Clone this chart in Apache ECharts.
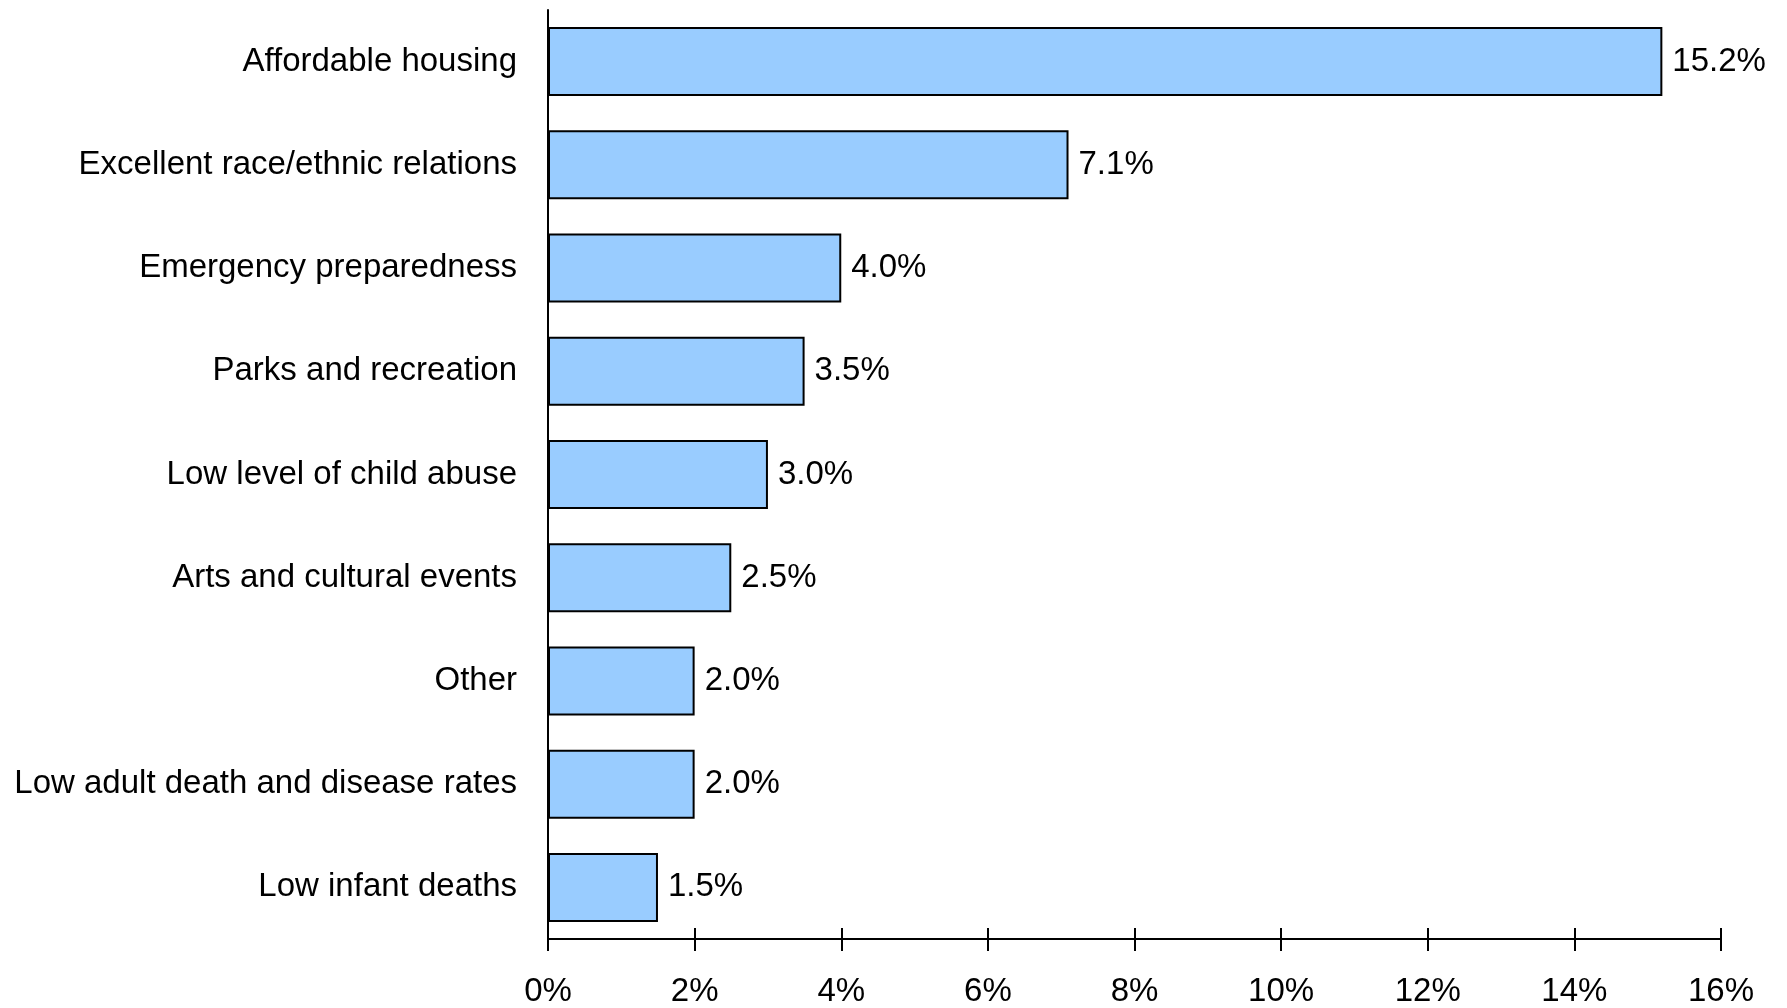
<!DOCTYPE html>
<html>
<head>
<meta charset="utf-8">
<script src="https://cdn.jsdelivr.net/npm/echarts@6/dist/echarts.min.js"></script>
<style>
html,body{margin:0;padding:0;background:#fff;}
#chart{width:1787px;height:1008px;}
</style>
</head>
<body>
<div id="chart"></div>
<script>
const categories = [
  "Affordable housing",
  "Excellent race/ethnic relations",
  "Emergency preparedness",
  "Parks and recreation",
  "Low level of child abuse",
  "Arts and cultural events",
  "Other",
  "Low adult death and disease rates",
  "Low infant deaths"
];
const values = [15.2, 7.1, 4.0, 3.5, 3.0, 2.5, 2.0, 2.0, 1.5];
const xTickMin = 0, xTickMax = 16, xTickStep = 2;

const FONT = "'Liberation Sans', Arial, sans-serif";
const chart = echarts.init(document.getElementById('chart'), null, {renderer: 'canvas'});
chart.setOption({
  backgroundColor: '#ffffff',
  animation: false,
  grid: {left: 548, right: 66, top: 10, bottom: 69, containLabel: false},
  xAxis: [{
    type: 'value', min: xTickMin, max: xTickMax, interval: xTickStep,
    axisLine: {show: true, lineStyle: {color: '#000', width: 2}},
    axisTick: {show: true, length: 12, lineStyle: {color: '#000', width: 2}},
    splitLine: {show: false},
    axisLabel: {color: '#000', fontSize: 33, fontFamily: FONT, margin: 36,
      formatter: v => v + '%'}
  }, {
    type: 'value', min: xTickMin, max: xTickMax, interval: xTickStep, position: 'bottom',
    axisLine: {show: false},
    axisTick: {show: true, inside: true, length: 11, lineStyle: {color: '#000', width: 2}},
    splitLine: {show: false},
    axisLabel: {show: false}
  }],
  yAxis: {
    type: 'category', data: categories, inverse: true,
    axisLine: {show: true, lineStyle: {color: '#000', width: 2}},
    axisTick: {show: false},
    axisLabel: {color: '#000', fontSize: 33, fontFamily: FONT, margin: 31}
  },
  series: [{
    type: 'bar', data: values, xAxisIndex: 0, barWidth: 69,
    itemStyle: {color: '#99CCFF', borderColor: '#000', borderWidth: 2},
    label: {show: true, position: 'right', distance: 10, color: '#000',
      fontSize: 33, fontFamily: FONT, formatter: p => p.value.toFixed(1) + '%'}
  }]
});
</script>
</body>
</html>
